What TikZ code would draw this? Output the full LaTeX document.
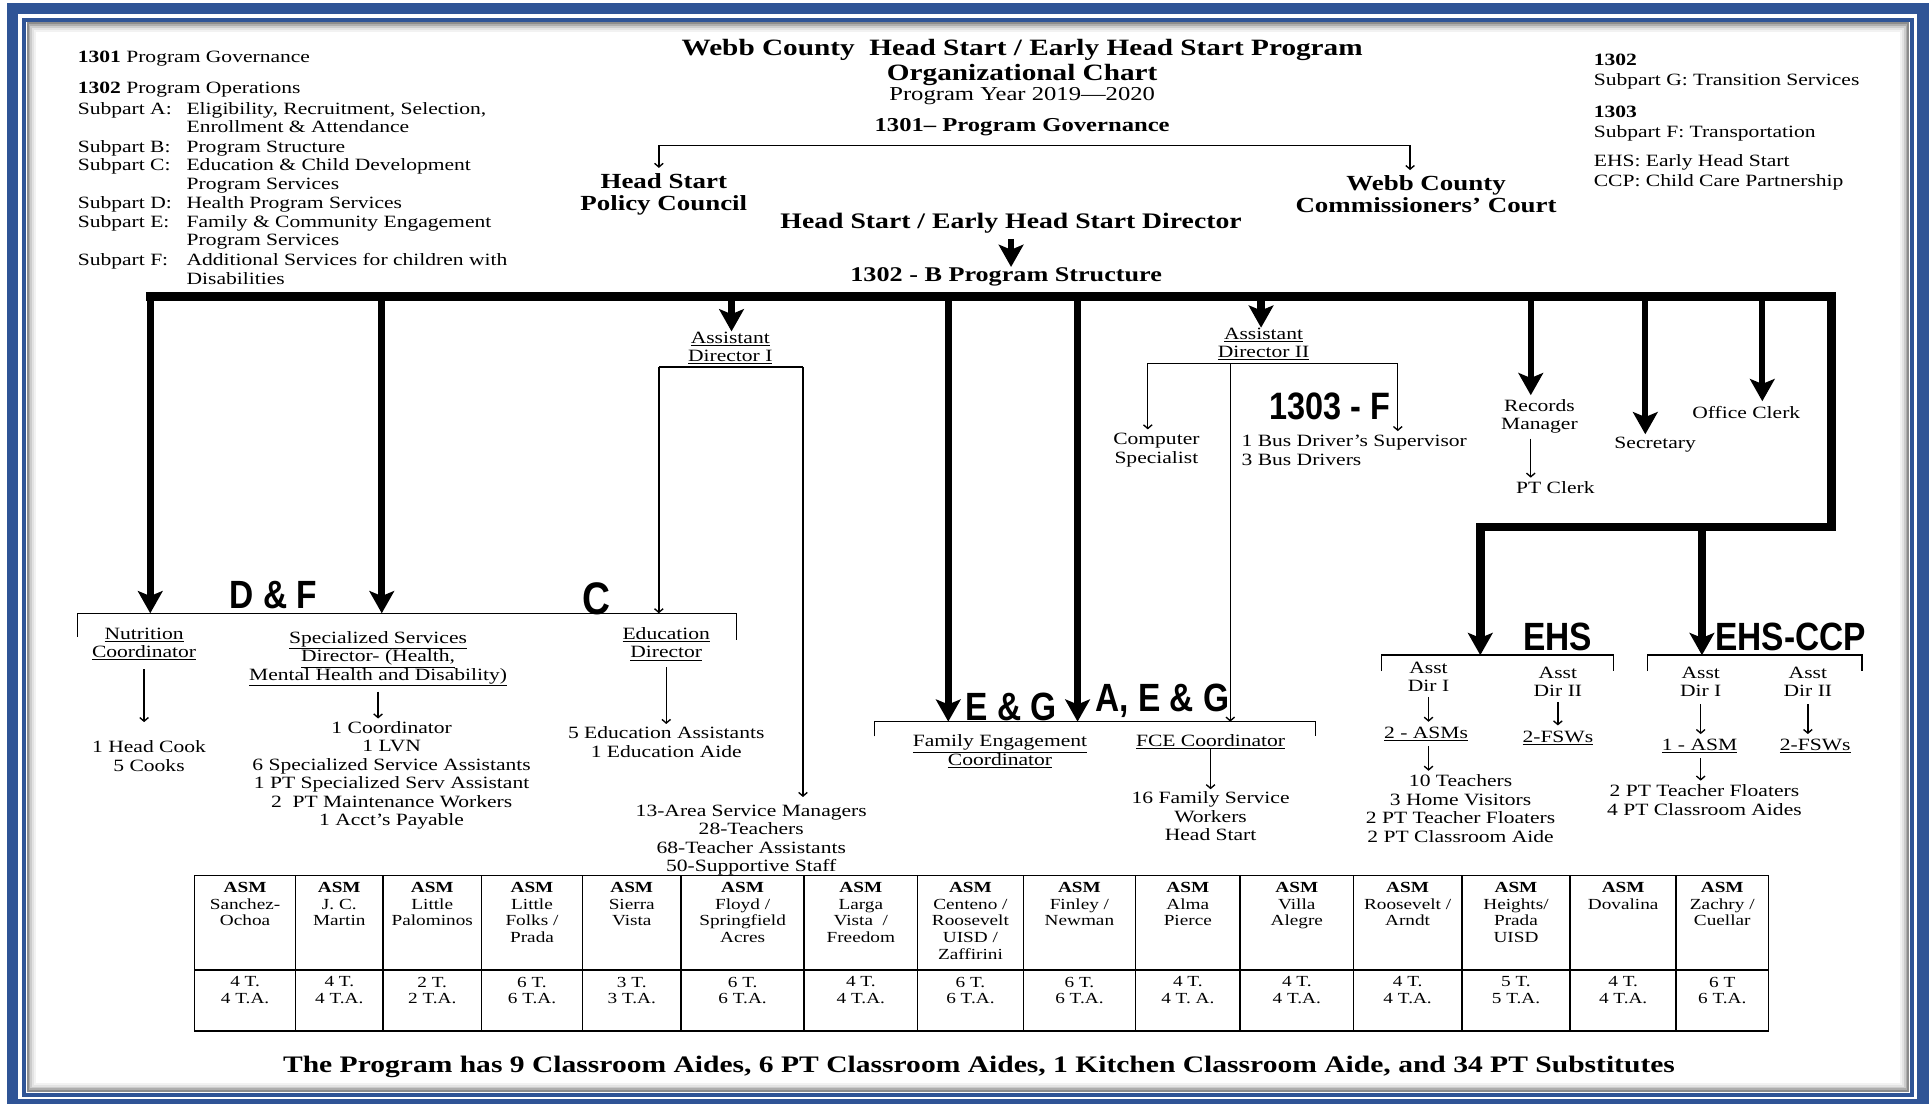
\documentclass[tikz,border=0pt]{standalone}
\usepackage{fontspec}
\setmainfont{Liberation Serif}[FakeStretch=1.25]
\newfontfamily\narrowsans{Liberation Sans}[FakeStretch=0.85]
\usetikzlibrary{arrows.meta}

\definecolor{frameblue}{RGB}{47,84,150}

% underlined line of a title
\newcommand\undl[1]{\underline{#1}}

% one column of the ASM table
\newcommand\asmcol[5]{%
  \draw[tableline] (#1,711) rectangle (#2,837);
  \draw[tableline] (#1,787.5) -- (#2,787.5);
  \node[cell,anchor=north] (#3) at ({(#1+#2)/2},714) {\textbf{ASM}\\#4};
  \node[cell,anchor=north] (#3n) at ({(#1+#2)/2},791) {#5};
}

\begin{document}
\begin{tikzpicture}[x=1pt,y=-1pt,
  lbl/.style={font=\fontsize{14}{15}\selectfont,align=center,inner sep=0pt,yshift=-2pt},
  hdr/.style={font=\fontsize{17.5}{18}\selectfont\bfseries,align=center,inner sep=0pt,yshift=-2.5pt},
  cell/.style={font=\fontsize{12.5}{13.7}\selectfont,align=center,inner sep=0pt,yshift=-2pt},
  tag/.style={font=\narrowsans\bfseries\fontsize{32}{32}\selectfont,inner sep=0pt},
  thinline/.style={line width=1.1pt},
  thinarrow/.style={thinline,-{Straight Barb[length=3pt,width=7pt]}},
  thickarrow/.style={line width=6pt,-{Stealth[length=18pt,width=20pt,inset=4pt]}},
  tableline/.style={line width=1.3pt},
]
\useasboundingbox (0,0) rectangle (1568,896);

% Page frame with its shadow
\fill[white] (0,0) rectangle (1568,896);
\foreach \d/\g in {3/45,4.5/32,6/20,7.5/11,9/5}
  \draw[black!\g,line width=1.6pt] (19.5+\d,16+\d) rectangle (1552.5-\d,889-\d);
\draw[frameblue,line width=3.5pt] (19.5,16) rectangle (1552.5,889);
\draw[frameblue,line width=9pt] (10,7.2) rectangle (1561.5,896.5);

% Left legend
\node[lbl,anchor=north west] (parts) at (63,38) {%
  \renewcommand\arraystretch{1}%
  \begin{tabular}{@{}l@{\hspace{12pt}}l@{}}
  \multicolumn{2}{@{}l}{\textbf{1301} Program Governance}\\[10pt]
  \multicolumn{2}{@{}l}{\textbf{1302} Program Operations}\\[2pt]
  Subpart A: & Eligibility, Recruitment, Selection,\\
             & Enrollment \& Attendance\\[1pt]
  Subpart B: & Program Structure\\
  Subpart C: & Education \& Child Development\\
             & Program Services\\[1pt]
  Subpart D: & Health Program Services\\
  Subpart E: & Family \& Community Engagement\\
             & Program Services\\[1pt]
  Subpart F: & Additional Services for children with\\
             & Disabilities
  \end{tabular}};

% Right legend
\node[lbl,font=\fontsize{14}{16}\selectfont,anchor=north west,align=left] (extra) at (1294,42) {%
  \textbf{1302}\\ Subpart G: Transition Services\\[10pt]
  \textbf{1303}\\ Subpart F: Transportation\\[8pt]
  EHS: Early Head Start\\ CCP: Child Care Partnership};

% Title block
\node[hdr,font=\fontsize{19}{20}\selectfont\bfseries] (title) at (830,38) {Webb County\ \ Head Start / Early Head Start Program};
\node[hdr,font=\fontsize{19}{20}\selectfont\bfseries] (chart) at (830,58) {Organizational Chart};
\node[lbl,font=\fontsize{16}{17}\selectfont] (year) at (830,76) {Program Year 2019—2020};
\node[hdr,font=\fontsize{16}{17}\selectfont\bfseries] (gov) at (830,101) {1301– Program Governance};

% Governance branch
\coordinate (govl) at (535,118);
\coordinate (govr) at (1145,118);
\node[hdr] (council) at (539,155) {Head Start\\Policy Council};
\node[hdr] (court) at (1158,155) {Webb County\\Commissioners’ Court};
\draw[thinline] (govl) -- (govr);
\draw[thinarrow,shorten >=4pt] (govl) -- (govl |- council.north);
\draw[thinarrow,shorten >=4pt] (govr) -- (govr |- court.north);

% Director
\node[hdr,font=\fontsize{18}{19}\selectfont\bfseries] (director) at (821,179) {Head Start / Early Head Start Director};
\node[hdr,font=\fontsize{17}{18}\selectfont\bfseries] (structure) at (817,222) {1302 - B Program Structure};
\draw[thickarrow,line width=5pt,shorten <=4pt] (director.south) -- (director.south |- structure.north);

% Main bar, its right leg runs down to EHS
\coordinate (ehstop) at (1202,532);
\coordinate (ccptop) at (1382,532);
\draw[thickarrow,line width=7pt] (118.5,241) -- (1487,241) -- (1487,428) -- (1202,428) -- (ehstop);
\draw[thickarrow] (1382,428) -- (ccptop);

% Drops from the main bar
\coordinate (nutrdrop) at (122,241);
\coordinate (specdrop) at (310,241);
\coordinate (ad1drop) at (594,241);
\coordinate (fedrop) at (770,241);
\coordinate (fcedrop) at (875,241);
\coordinate (ad2drop) at (1024,241);
\coordinate (recdrop) at (1243,241);
\coordinate (secdrop) at (1336,241);
\coordinate (offdrop) at (1431,241);

% D & F and C bracket
\coordinate (dfl) at (63,498);
\coordinate (dfr) at (598,498);
\draw[thinline] (dfl) ++(0,19) -- (dfl) -- (dfr) -- ++(0,22);
\draw[thickarrow] (nutrdrop) -- (nutrdrop |- dfl);
\draw[thickarrow] (specdrop) -- (specdrop |- dfl);
\node[tag] (df) at (222,483) {D \& F};
\node[tag,font=\narrowsans\bfseries\fontsize{37}{37}\selectfont] (ctag) at (484,486) {C};

\node[lbl] (nutr) at (117,521) {\undl{Nutrition}\\\undl{Coordinator}};
\node[lbl] (spec) at (307,533) {\undl{Specialized Services}\\\undl{Director- (Health,}\\\undl{Mental Health and Disability)}};
\node[lbl] (edu) at (541,521) {\undl{Education}\\\undl{Director}};
\node[lbl] (cooks) at (121,612) {1 Head Cook\\5 Cooks};
\node[lbl] (specstaff) at (318,627.5) {1 Coordinator\\1 LVN\\6 Specialized Service Assistants\\1 PT Specialized Serv Assistant\\2\ \ PT Maintenance Workers\\1 Acct’s Payable};
\node[lbl] (eduaides) at (541,600.5) {5 Education Assistants\\1 Education Aide};
\draw[thinarrow,shorten <=7pt,shorten >=15pt] (nutr.south) -- (nutr.south |- cooks.north);
\draw[thinarrow,shorten <=4pt,shorten >=2pt] (spec.south) -- (spec.south |- specstaff.north);
\draw[thinarrow,shorten <=5pt,shorten >=2pt] (edu.south) -- (edu.south |- eduaides.north);

% Assistant Director I
\node[lbl] (asst1) at (593,280.5) {\undl{Assistant}\\\undl{Director I}};
\draw[thickarrow] (ad1drop) -- (ad1drop |- asst1.north);
\coordinate (a1l) at (535,298);
\coordinate (a1r) at (652,298);
\node[lbl] (areastaff) at (610,680) {13-Area Service Managers\\28-Teachers\\68-Teacher Assistants\\50-Supportive Staff};
\draw[thinline] (a1l) -- (a1r);
\draw[thinarrow] (a1l) -- (a1l |- dfl);
\draw[thinarrow,shorten >=6pt] (a1r) -- (a1r |- areastaff.north);

% E & G bracket
\coordinate (egl) at (710,586);
\coordinate (egr) at (1068,586);
\draw[thinline] (egl) ++(0,12) -- (egl) -- (egr) -- ++(0,12);
\draw[thickarrow] (fedrop) -- (fedrop |- egl);
\draw[thickarrow] (fcedrop) -- (fcedrop |- egl);
\node[tag] (eg) at (821,574) {E \& G};
\node[tag] (aeg) at (944,569) {A, E \& G};
\node[lbl] (fec) at (812,608) {\undl{Family Engagement}\\\undl{Coordinator}};
\node[lbl] (fce) at (983,600) {\undl{FCE Coordinator}};
\node[lbl] (fsw) at (983,661) {16 Family Service\\Workers\\Head Start};
\draw[thinarrow,shorten >=2pt] (fce.south) -- (fce.south |- fsw.north);

% Assistant Director II
\node[lbl] (asst2) at (1026,277.5) {\undl{Assistant}\\\undl{Director II}};
\draw[thickarrow] (ad2drop) -- (ad2drop |- asst2.north);
\coordinate (a2l) at (932,295);
\coordinate (a2m) at (999,295);
\coordinate (a2r) at (1135,295);
\node[lbl] (comp) at (939,363.5) {Computer\\Specialist};
\node[lbl,anchor=west,align=left] (buses) at (1008,363.5) {1 Bus Driver’s Supervisor\\3 Bus Drivers};
\node[tag,font=\narrowsans\bfseries\fontsize{31}{31}\selectfont] (f1303) at (1080,330) {1303 - F};
\draw[thinline] (a2l) -- (a2r);
\draw[thinarrow,shorten >=3pt] (a2l) -- (a2l |- comp.north);
\draw[thinarrow,shorten >=3pt] (a2r) -- (a2r |- buses.north);
\draw[thinarrow] (a2m) -- (a2m |- egl);

% Office staff
\node[lbl] (records) at (1250,336) {Records\\Manager};
\node[lbl] (ptclerk) at (1263,394) {PT Clerk};
\node[lbl] (secretary) at (1344,359) {Secretary};
\node[lbl] (office) at (1418,333) {Office Clerk};
\draw[thickarrow,line width=5pt,shorten >=3pt] (recdrop) -- (recdrop |- records.north);
\draw[thickarrow,line width=5pt,shorten >=2pt] (secdrop) -- (secdrop |- secretary.north);
\draw[thickarrow,line width=5pt,shorten >=4pt] (offdrop) -- (offdrop |- office.north);
\draw[thinarrow,shorten <=4pt,shorten >=3pt] (records.south -| recdrop) -- (recdrop |- ptclerk.north);

% EHS
\draw[thinline] (1122,545) -- (1122,532) -- (1310,532) -- (1310,545);
\node[tag] (ehstag) at (1265,517) {EHS};
\node[lbl] (ehs1) at (1160,547.5) {Asst\\Dir I};
\node[lbl] (ehs2) at (1265,551.5) {Asst\\Dir II};
\node[lbl] (asm2) at (1158,594) {\undl{2 - ASMs}};
\node[lbl] (fsw2) at (1265,597) {\undl{2-FSWs}};
\node[lbl] (ehsstaff) at (1186,654.5) {10 Teachers\\3 Home Visitors\\2 PT Teacher Floaters\\2 PT Classroom Aide};
\draw[thinarrow,shorten <=4pt,shorten >=4pt] (ehs1.south) -- (ehs1.south |- asm2.north);
\draw[thinarrow,shorten <=4pt,shorten >=4pt] (ehs2.south) -- (ehs2.south |- fsw2.north);
\draw[thinarrow,shorten <=4pt,shorten >=3pt] (asm2.south -| ehs1.south) -- (ehs1.south |- ehsstaff.north);

% EHS-CCP
\draw[thinline] (1338,545) -- (1338,532) -- (1512,532) -- (1512,545);
\node[tag] (ccptag) at (1454,517) {EHS-CCP};
\node[lbl] (ccp1) at (1381,551.5) {Asst\\Dir I};
\node[lbl] (ccp2) at (1468,551.5) {Asst\\Dir II};
\node[lbl] (asm1) at (1380,604) {\undl{1 - ASM}};
\node[lbl] (fsw3) at (1474,604) {\undl{2-FSWs}};
\node[lbl] (ccpstaff) at (1384,647.5) {2 PT Teacher Floaters\\4 PT Classroom Aides};
\draw[thinarrow,shorten <=6pt,shorten >=4pt] (ccp1.south) -- (ccp1.south |- asm1.north);
\draw[thinarrow,shorten <=6pt,shorten >=4pt] (ccp2.south) -- (ccp2.south |- fsw3.north);
\draw[thinarrow,shorten <=4pt,shorten >=3pt] (asm1.south -| ccp1.south) -- (ccp1.south |- ccpstaff.north);

% ASM table
\asmcol{158}{240}{sanchez}{Sanchez-\\Ochoa}{4 T.\\4 T.A.}
\asmcol{240}{311}{martin}{J. C.\\Martin}{4 T.\\4 T.A.}
\asmcol{311}{391}{palominos}{Little\\Palominos}{2 T.\\2 T.A.}
\asmcol{391}{473}{folks}{Little\\Folks /\\Prada}{6 T.\\6 T.A.}
\asmcol{473}{553}{sierra}{Sierra\\Vista}{3 T.\\3 T.A.}
\asmcol{553}{653}{floyd}{Floyd /\\Springfield\\Acres}{6 T.\\6 T.A.}
\asmcol{653}{745}{larga}{Larga\\Vista\ \ /\\Freedom}{4 T.\\4 T.A.}
\asmcol{745}{831}{centeno}{Centeno /\\Roosevelt\\UISD /\\Zaffirini}{6 T.\\6 T.A.}
\asmcol{831}{922}{finley}{Finley /\\Newman}{6 T.\\6 T.A.}
\asmcol{922}{1007}{alma}{Alma\\Pierce}{4 T.\\4 T. A.}
\asmcol{1007}{1099}{villa}{Villa\\Alegre}{4 T.\\4 T.A.}
\asmcol{1099}{1187}{roosevelt}{Roosevelt /\\Arndt}{4 T.\\4 T.A.}
\asmcol{1187}{1275}{heights}{Heights/\\Prada\\UISD}{5 T.\\5 T.A.}
\asmcol{1275}{1361}{dovalina}{Dovalina}{4 T.\\4 T.A.}
\asmcol{1361}{1436}{zachry}{Zachry /\\Cuellar}{6 T\\6 T.A.}

% Summary line
\node[hdr,font=\fontsize{19.2}{20}\selectfont\bfseries] (summary) at (795,864) {The Program has 9 Classroom Aides, 6 PT Classroom Aides, 1 Kitchen Classroom Aide, and 34 PT Substitutes};
\end{tikzpicture}
\end{document}
